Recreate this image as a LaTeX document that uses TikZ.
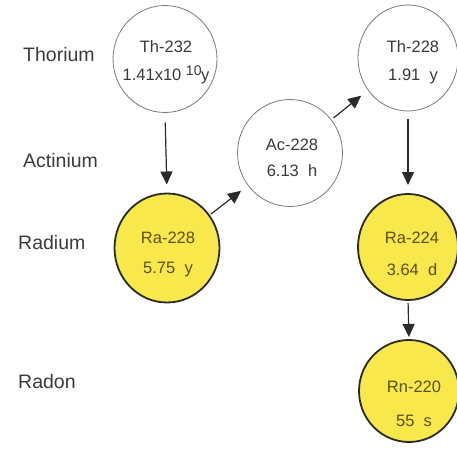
\documentclass[tikz,border=0pt]{standalone}
\usepackage{fontspec}
\setmainfont{Liberation Sans}
\usetikzlibrary{arrows.meta,shapes.geometric}
\definecolor{nucyellow}{HTML}{F9E84B}
\definecolor{nucedge}{HTML}{2A2A2A}
\definecolor{thinedge}{HTML}{7A7A7A}
\definecolor{inktext}{HTML}{3A3A3A}
\definecolor{olivetext}{HTML}{5C5020}
\definecolor{arrowink}{HTML}{2B2B2B}
\tikzset{
  isoplain/.style={ellipse, draw=thinedge, line width=0.8pt, fill=white,
    inner sep=0pt, outer sep=0pt},
  isoyellow/.style={ellipse, draw=nucedge, line width=1.8pt, fill=nucyellow,
    inner sep=0pt, outer sep=0pt},
  plaintext/.style={text=inktext, font=\fontsize{16.5}{18}\selectfont, inner sep=0pt},
  yellowtext/.style={text=olivetext, font=\fontsize{16.5}{18}\selectfont, inner sep=0pt},
  element/.style={text=inktext, font=\fontsize{19.5}{22}\selectfont, anchor=west, inner sep=0pt},
  decay/.style={-{Triangle[length=13pt,width=12pt]}, draw=arrowink, fill=arrowink, line width=1.2pt},
}
\begin{document}
\begin{tikzpicture}[x=1pt,y=-1pt]
  \useasboundingbox (0,0) rectangle (457,452);
  \clip (0,0) rectangle (457,452);

  % element rows
  \node[element] (lthorium)  at (23,55)  {Thorium};
  \node[element] (lactinium) at (23,161) {Actinium};
  \node[element] (lradium)   at (18,243) {Radium};
  \node[element] (lradon)    at (18,382) {Radon};

  % nuclides
  \node[isoplain, minimum width=104pt, minimum height=107pt]  (th232) at (165,59)  {};
  \node[isoplain, minimum width=105pt, minimum height=107pt]  (ac228) at (290,153) {};
  \node[isoplain, minimum width=100pt, minimum height=106pt]  (th228) at (408,58)  {};
  \node[isoyellow, minimum width=105pt, minimum height=109pt] (ra228) at (167,248) {};
  \node[isoyellow, minimum width=100pt, minimum height=106pt] (ra224) at (408,247) {};
  \node[isoyellow, minimum width=100pt, minimum height=102pt] (rn220) at (409,391) {};

  % names and half-lives
  \node[plaintext] (t1a) at (166,47) {Th-232};
  \node[plaintext] (t1b) at (166,75) {1.41x10 \raisebox{5pt}{\fontsize{14}{14}\selectfont 10}\hspace{-0.5pt}y};
  \node[plaintext] (t2a) at (292,145) {Ac-228};
  \node[plaintext] (t2b) at (292,171) {6.13\ \ h};
  \node[plaintext] (t3a) at (413,47) {Th-228};
  \node[plaintext] (t3b) at (413,76) {1.91\ \ y};
  \node[yellowtext] (t4a) at (168,238) {Ra-228};
  \node[yellowtext] (t4b) at (168,270) {5.75\ \ y};
  \node[yellowtext] (t5a) at (412,238) {Ra-224};
  \node[yellowtext] (t5b) at (412,270) {3.64\ \ d};
  \node[yellowtext] (t6a) at (414,387) {Rn-220};
  \node[yellowtext] (t6b) at (414,421) {55\ \ s};

  % decay chain
  \draw[decay, shorten <=10pt, shorten >=9pt] (th232.south) -- (ra228.north);
  \draw[decay, shorten <=2pt, shorten >=9pt] (ra228) -- (ac228);
  \draw[decay, shorten <=3pt, shorten >=9pt] (ac228) -- (th228);
  \draw[decay, shorten <=8pt, shorten >=9pt] (th228.south) -- (ra224.north);
  \draw[decay, shorten <=3pt, shorten >=3pt] (ra224.south) -- (rn220.north);
\end{tikzpicture}
\end{document}
